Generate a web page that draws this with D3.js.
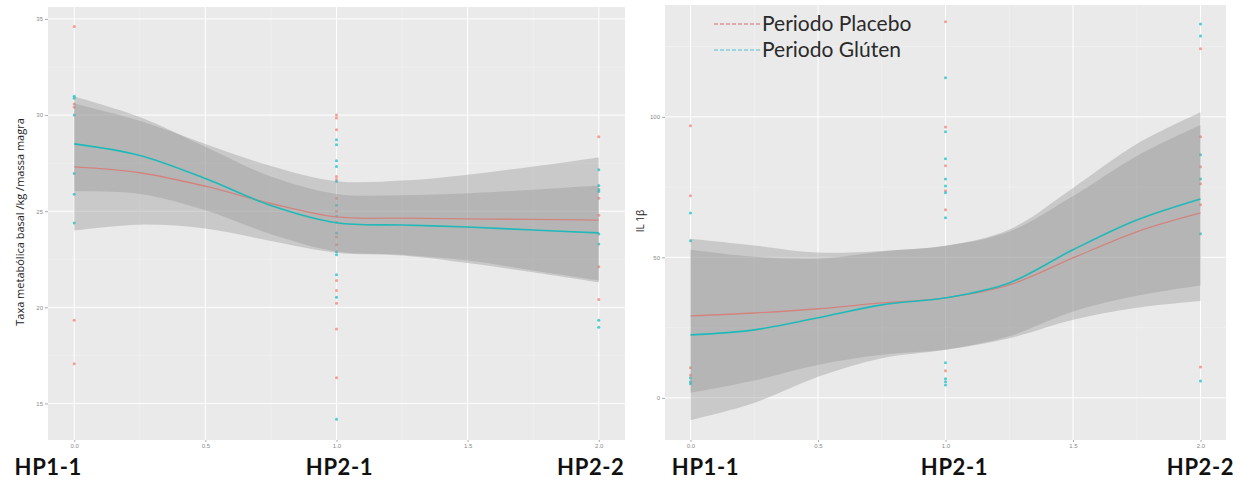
<!DOCTYPE html>
<html>
<head>
<meta charset="utf-8">
<script src="https://cdn.jsdelivr.net/npm/d3@7"></script>
<style>
  body { margin: 0; background: #fff; }
  svg { display: block; }
  .tick-label { font-family: "Liberation Sans", sans-serif; font-size: 6px; fill: #8a8a8a; }
  .period { font-family: Lato, "Open Sans", sans-serif; font-weight: bold; font-size: 22px; letter-spacing: 0.6px; fill: #111; }
  .ytitle { font-family: "Open Sans", sans-serif; font-size: 11px; fill: #222; }
  .legend { font-family: Lato, "Open Sans", sans-serif; font-size: 21px; fill: #2a2a2a; }
</style>
</head>
<body>
<svg width="1253" height="485"></svg>
<script>
// shared x
const xTicks = [0, 0.5, 1, 1.5, 2];
const xMinor = [0.25, 0.75, 1.25, 1.75];
const periods = ["HP1-1", "HP2-1", "HP2-2"];
const fitX = [0, 0.25, 0.5, 0.75, 1, 1.25, 1.5, 1.75, 2];

// left panel: Taxa metabólica basal
const tmbTicks = [15, 20, 25, 30, 35];
const tmbMinor = [17.5, 22.5, 27.5, 32.5];
const tmbPlaceboFit = [27.3, 27.0, 26.3, 25.4, 24.7, 24.64, 24.6, 24.57, 24.54];
const tmbPlaceboHw = [3.3, 2.7, 2.2, 1.95, 1.86, 1.95, 2.3, 2.75, 3.25];
const tmbGlutenFit = [28.5, 27.9, 26.7, 25.3, 24.4, 24.28, 24.18, 24.02, 23.87];
const tmbGlutenHw = [2.47, 2.0, 1.65, 1.5, 1.5, 1.55, 1.75, 2.1, 2.47];
const tmbPlaceboPts = [
  [0, 34.6], [0, 30.57], [0, 30.41], [0, 19.33], [0, 17.06],
  [1, 30.0], [1, 29.85], [1, 29.23], [1, 26.8], [1, 26.65], [1, 25.67], [1, 25.0], [1, 24.43],
  [1, 23.66], [1, 23.25], [1, 21.39], [1, 20.88], [1, 20.21], [1, 18.87], [1, 16.34],
  [2, 28.87], [2, 25.67], [2, 24.79], [2, 22.11], [2, 20.41]
];
const tmbGlutenPts = [
  [0, 30.98], [0, 30.88], [0, 30.0], [0, 26.96], [0, 25.88], [0, 24.38],
  [1, 28.71], [1, 28.45], [1, 27.63], [1, 27.32], [1, 26.55], [1, 25.31], [1, 24.74], [1, 23.87],
  [1, 22.89], [1, 22.73], [1, 21.7], [1, 20.52], [1, 14.18],
  [2, 27.16], [2, 26.34], [2, 26.13], [2, 26.03], [2, 23.81], [2, 23.3], [2, 19.33], [2, 18.97]
];

// right panel: IL 1β
const ilTicks = [0, 50, 100];
const ilMinor = [25, 75, 125];
const ilPlaceboFit = [29.2, 30.2, 31.7, 33.8, 35.6, 40.2, 49.8, 59.1, 65.8];
const ilPlaceboHw = [27.4, 24, 20, 18.5, 18.5, 19, 22, 27, 31.3];
const ilGlutenFit = [22.4, 24.2, 28.5, 33.1, 35.6, 40.9, 52.7, 63.3, 70.8];
const ilGlutenHw = [30.3, 26, 21, 19, 18.5, 19, 22, 27, 30.8];
const ilPlaceboPts = [
  [0, 96.8], [0, 71.9], [0, 10.7], [0, 8.0],
  [1, 133.8], [1, 96.4], [1, 82.6], [1, 73.7], [1, 66.9], [1, 9.6],
  [2, 124.2], [2, 92.9], [2, 82.2], [2, 76.2], [2, 68.7], [2, 11.0]
];
const ilGlutenPts = [
  [0, 65.8], [0, 55.9], [0, 7.1], [0, 5.7], [0, 5.0],
  [1, 113.9], [1, 94.7], [1, 85.1], [1, 77.9], [1, 75.4], [1, 73.0], [1, 64.1], [1, 12.5], [1, 6.8], [1, 5.7], [1, 4.6],
  [2, 133.0], [2, 128.8], [2, 86.5], [2, 77.9], [2, 58.4], [2, 6.0]
];

const legendItems = ["Periodo Placebo", "Periodo Glúten"];

const pink = "#F8766D", cyan = "#00BFC4";
const svg = d3.select("svg");

const drawPanel = (cfg) => {
  const x = d3.scaleLinear().domain([-0.1, 2.1]).range([cfg.left, cfg.right]);
  const y = d3.scaleLinear().domain(cfg.yDomain).range([cfg.bottom, cfg.top]);
  const g = svg.append("g");

  g.append("rect")
    .attr("x", cfg.left).attr("y", cfg.top)
    .attr("width", cfg.right - cfg.left).attr("height", cfg.bottom - cfg.top)
    .attr("fill", "#EAEAEA");

  // grid
  g.selectAll(".ymin").data(cfg.yMinor).enter().append("line")
    .attr("x1", cfg.left).attr("x2", cfg.right)
    .attr("y1", d => y(d)).attr("y2", d => y(d))
    .attr("stroke", "#F3F3F3").attr("stroke-width", 0.6);
  g.selectAll(".xmin").data(xMinor).enter().append("line")
    .attr("y1", cfg.top).attr("y2", cfg.bottom)
    .attr("x1", d => x(d)).attr("x2", d => x(d))
    .attr("stroke", "#F3F3F3").attr("stroke-width", 0.6);
  g.selectAll(".ymaj").data(cfg.yTicks).enter().append("line")
    .attr("x1", cfg.left).attr("x2", cfg.right)
    .attr("y1", d => y(d)).attr("y2", d => y(d))
    .attr("stroke", "#fff").attr("stroke-width", 1);
  g.selectAll(".xmaj").data(xTicks).enter().append("line")
    .attr("y1", cfg.top).attr("y2", cfg.bottom)
    .attr("x1", d => x(d)).attr("x2", d => x(d))
    .attr("stroke", "#fff").attr("stroke-width", 1);

  // axes (ggplot style small grey ticks)
  const yAxis = g.append("g").attr("transform", `translate(${cfg.left},0)`)
    .call(d3.axisLeft(y).tickValues(cfg.yTicks).tickSize(3).tickPadding(2)
      .tickFormat(cfg.yFormat));
  const xAxis = g.append("g").attr("transform", `translate(0,${cfg.bottom})`)
    .call(d3.axisBottom(x).tickValues(xTicks).tickSize(2).tickPadding(2)
      .tickFormat(d3.format(".1f")));
  [yAxis, xAxis].forEach(a => {
    a.select(".domain").remove();
    a.selectAll(".tick line").attr("stroke", "#aaa");
    a.selectAll(".tick text").attr("class", "tick-label").attr("fill", null);
  });

  // points (drawn under the ribbons like ggplot)
  const pts = (data, col) => g.append("g").selectAll("circle").data(data).enter().append("circle")
    .attr("cx", d => x(d[0])).attr("cy", d => y(d[1])).attr("r", 1.5)
    .attr("fill", col).attr("opacity", 0.7);
  pts(cfg.placeboPts, pink);
  pts(cfg.glutenPts, cyan);

  const area = (fit, hw) => d3.area()
    .x((d, i) => x(fitX[i]))
    .y0((d, i) => y(fit[i] - hw[i]))
    .y1((d, i) => y(fit[i] + hw[i]))
    .curve(d3.curveCatmullRom)(fit);
  const line = (fit) => d3.line()
    .x((d, i) => x(fitX[i])).y(d => y(d))
    .curve(d3.curveCatmullRom)(fit);

  g.append("path").attr("d", area(cfg.placeboFit, cfg.placeboHw))
    .attr("fill", "#999").attr("opacity", 0.4);
  g.append("path").attr("d", line(cfg.placeboFit))
    .attr("fill", "none").attr("stroke", pink).attr("stroke-width", 1.3);
  g.append("path").attr("d", area(cfg.glutenFit, cfg.glutenHw))
    .attr("fill", "#999").attr("opacity", 0.4);
  g.append("path").attr("d", line(cfg.glutenFit))
    .attr("fill", "none").attr("stroke", "#1FBAB8").attr("stroke-width", 1.6);

  // period labels under the axis (pasted in by hand, not exactly centred)
  g.selectAll(".period").data(periods).enter().append("text")
    .attr("class", "period")
    .attr("x", (d, i) => x(i) + cfg.labelShift[i]).attr("y", 475)
    .attr("text-anchor", "middle")
    .text(d => d);

  g.append("text").attr("class", "ytitle")
    .attr("transform", `translate(${cfg.titleX},${cfg.titleY}) rotate(-90)`)
    .attr("text-anchor", "middle")
    .style("font-size", cfg.titleSize)
    .text(cfg.title);

  return { x, y, g };
};

drawPanel({
  left: 48, right: 625, top: 7, bottom: 440,
  yDomain: [13.1, 35.62], yTicks: tmbTicks, yMinor: tmbMinor, yFormat: d3.format("d"),
  placeboFit: tmbPlaceboFit, placeboHw: tmbPlaceboHw,
  glutenFit: tmbGlutenFit, glutenHw: tmbGlutenHw,
  placeboPts: tmbPlaceboPts, glutenPts: tmbGlutenPts,
  labelShift: [-26, 3, -8],
  title: "Taxa metabólica basal /kg /massa magra", titleX: 24, titleY: 222, titleSize: "11px"
});

drawPanel({
  left: 665, right: 1226, top: 5, bottom: 440,
  yDomain: [-15, 139.8], yTicks: ilTicks, yMinor: ilMinor, yFormat: d3.format("d"),
  placeboFit: ilPlaceboFit, placeboHw: ilPlaceboHw,
  glutenFit: ilGlutenFit, glutenHw: ilGlutenHw,
  placeboPts: ilPlaceboPts, glutenPts: ilGlutenPts,
  labelShift: [15, 9, 0],
  title: "IL 1β", titleX: 644, titleY: 221, titleSize: "10px"
});

// legend
const legend = svg.append("g").attr("transform", "translate(714,24)");
legend.selectAll("line").data(legendItems).enter().append("line")
  .attr("x1", 0).attr("x2", 47)
  .attr("y1", (d, i) => i * 26).attr("y2", (d, i) => i * 26)
  .attr("stroke", (d, i) => i === 0 ? "#E0676B" : "#4CC3DC")
  .attr("stroke-width", 1.2)
  .attr("stroke-dasharray", "4,2");
legend.selectAll("text").data(legendItems).enter().append("text")
  .attr("class", "legend")
  .attr("x", 48).attr("y", (d, i) => i * 26 + 7)
  .text(d => d);
</script>
</body>
</html>
